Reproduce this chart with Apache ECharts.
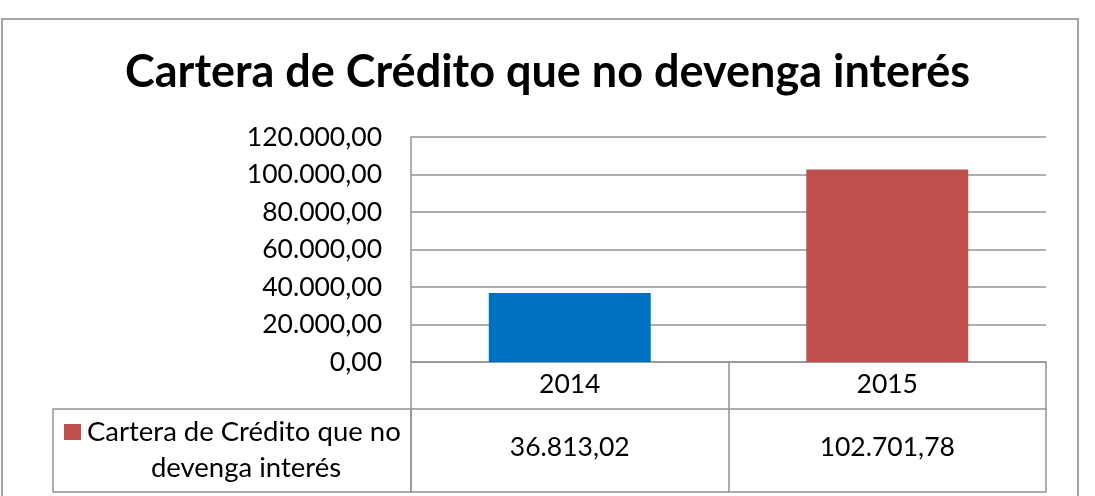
<!DOCTYPE html>
<html>
<head>
<meta charset="utf-8">
<script src="https://cdn.jsdelivr.net/npm/echarts@6/dist/echarts.min.js"></script>
<style>
html,body{margin:0;padding:0;background:#fff;}
#chart{width:1095px;height:496px;}
</style>
</head>
<body>
<div id="chart"></div>
<script>
var titleText = 'Cartera de Crédito que no devenga interés';
var seriesName = 'Cartera de Crédito que no devenga interés';
var legendLines = ['Cartera de Crédito que no', 'devenga interés'];
var categories = ['2014', '2015'];
var values = [36813.02, 102701.78];
var barColors = ['#0070C0', '#C0504D'];
var yMin = 0, yMax = 120000, yInterval = 20000;

function fmt(v) {
  var parts = v.toFixed(2).split('.');
  parts[0] = parts[0].replace(/\B(?=(\d{3})+(?!\d))/g, '.');
  return parts[0] + ',' + parts[1];
}

var FONT = 'Lato';
var gridColor = '#939393';
var chart = echarts.init(document.getElementById('chart'), null, {renderer: 'canvas'});

var option = {
  animation: false,
  backgroundColor: '#ffffff',
  title: {
    text: titleText,
    left: 'center',
    top: 45,
    textStyle: {fontFamily: FONT, fontWeight: 'bold', fontSize: 45, color: '#000'}
  },
  grid: {left: 411, right: 49, top: 137, bottom: 134, containLabel: false},
  xAxis: [
    {
      type: 'category', data: categories, position: 'bottom',
      axisLine: {show: true, lineStyle: {color: gridColor, width: 1.5}},
      axisTick: {show: true, length: 130, lineStyle: {color: gridColor, width: 1.5}},
      axisLabel: {margin: 9, fontFamily: FONT, fontSize: 26.5, color: '#000'}
    },
    {
      type: 'category', data: values.map(fmt), position: 'bottom', offset: 47,
      axisLine: {show: true, lineStyle: {color: gridColor, width: 1.5}},
      axisTick: {show: false},
      axisLabel: {margin: 25, fontFamily: FONT, fontSize: 26.5, color: '#000'}
    },
    {
      type: 'category', data: categories, position: 'bottom', offset: 130,
      axisLine: {show: true, lineStyle: {color: gridColor, width: 1.5}},
      axisTick: {show: false},
      axisLabel: {show: false}
    }
  ],
  yAxis: {
    type: 'value', min: yMin, max: yMax, interval: yInterval,
    axisLine: {show: true, lineStyle: {color: gridColor, width: 1.5}},
    axisTick: {show: false},
    splitLine: {show: true, lineStyle: {color: gridColor, width: 1.5}},
    axisLabel: {margin: 29, fontFamily: FONT, fontSize: 26.5, color: '#000', formatter: fmt}
  },
  series: [{
    name: seriesName,
    type: 'bar',
    barWidth: '51%',
    itemStyle: {color: barColors[1]},
    data: values.map(function (v, i) { return {value: v, itemStyle: {color: barColors[i]}}; })
  }],
  graphic: [
    {type: 'rect', shape: {x: 2, y: 19, width: 1076, height: 500}, style: {fill: 'none', stroke: '#a6a6a6', lineWidth: 2}, silent: true},
    {type: 'rect', shape: {x: 53, y: 409, width: 358, height: 83}, style: {fill: 'none', stroke: gridColor, lineWidth: 1.5}, silent: true},
    {type: 'rect', shape: {x: 64, y: 424, width: 17, height: 16}, style: {fill: barColors[1]}, silent: true},
    {type: 'text', x: 87, y: 432, style: {text: legendLines[0], fontFamily: FONT, fontSize: 27.5, fill: '#000', textAlign: 'left', textVerticalAlign: 'middle'}, silent: true},
    {type: 'text', x: 246, y: 468, style: {text: legendLines[1], fontFamily: FONT, fontSize: 27.5, fill: '#000', textAlign: 'center', textVerticalAlign: 'middle'}, silent: true}
  ]
};
chart.setOption(option);
</script>
</body>
</html>
